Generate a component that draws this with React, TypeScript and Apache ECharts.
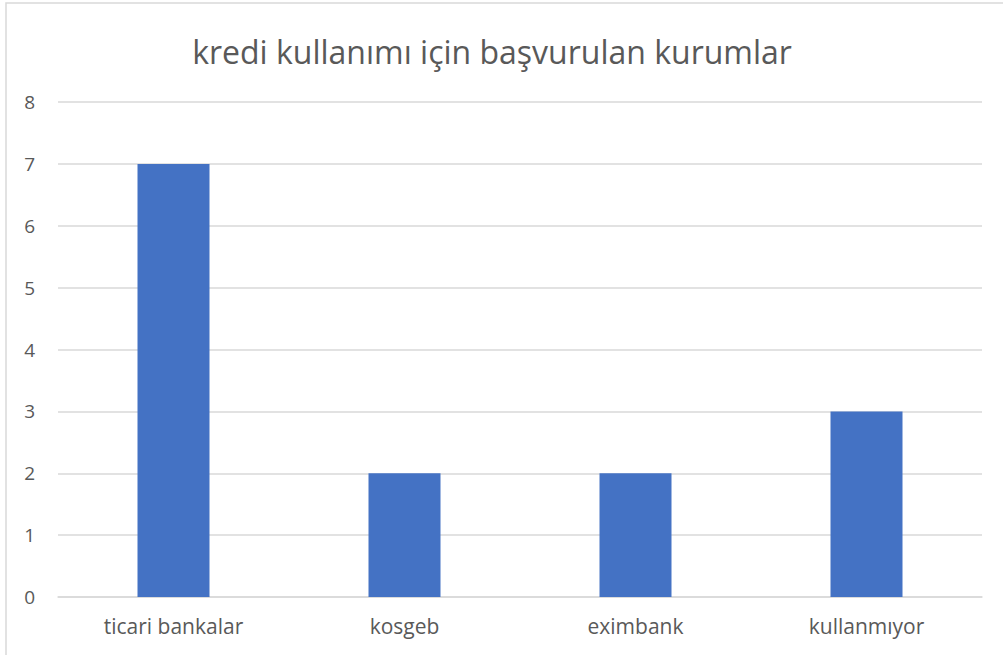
import React, { useEffect, useRef } from "react";
import * as echarts from "echarts";

const categories = ["ticari bankalar", "kosgeb", "eximbank", "kullanmıyor"];
const values = [7, 2, 2, 3];
const titleText = "kredi kullanımı için başvurulan kurumlar";

export default function App() {
  const ref = useRef<HTMLDivElement>(null);
  useEffect(() => {
    if (!ref.current) return;
    const chart = echarts.init(ref.current, undefined, { renderer: "svg" });
    const font = "'Open Sans', 'Noto Sans', sans-serif";
    chart.setOption({
      animation: false,
      backgroundColor: "#ffffff",
      title: {
        text: titleText,
        left: 487,
        top: 30,
        textAlign: "center",
        textStyle: { fontFamily: font, fontSize: 32, fontWeight: "normal", color: "#595959" },
      },
      graphic: [
        {
          type: "rect",
          shape: { x: 6, y: 3, width: 1010, height: 700 },
          style: { fill: "none", stroke: "#d9d9d9", lineWidth: 1.5 },
          silent: true,
        },
      ],
      grid: { left: 58, right: 21, top: 102, bottom: 58, containLabel: false },
      xAxis: {
        type: "category",
        data: categories,
        axisLine: { show: true, lineStyle: { color: "#d9d9d9", width: 1.5 } },
        axisTick: { show: false },
        axisLabel: { fontFamily: font, fontSize: 21, color: "#595959", margin: 18 },
      },
      yAxis: {
        type: "value",
        min: 0,
        max: 8,
        interval: 1,
        axisLine: { show: false },
        axisTick: { show: false },
        splitLine: { lineStyle: { color: "#d9d9d9", width: 1.5 } },
        axisLabel: { fontFamily: font, fontSize: 19, color: "#595959", margin: 23 },
      },
      series: [
        {
          type: "bar",
          data: values,
          barWidth: 72,
          itemStyle: { color: "#4472C4" },
        },
      ],
    });
    return () => chart.dispose();
  }, []);
  return (
    <div
      ref={ref}
      style={{ position: "fixed", left: 0, top: 0, width: 1003, height: 655 }}
    />
  );
}
